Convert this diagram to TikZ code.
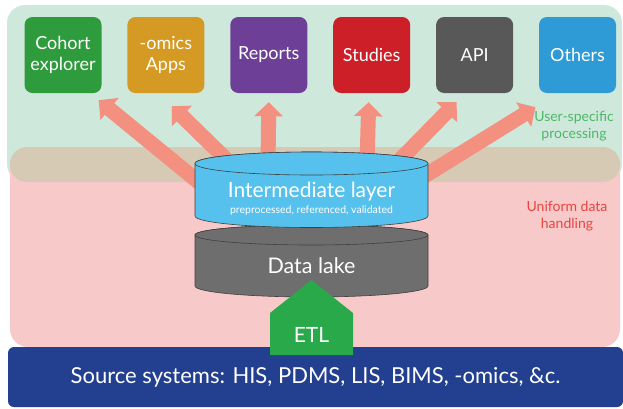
\documentclass[tikz,border=0pt]{standalone}
\usepackage{fontspec}
\setmainfont{Lato}
\usepackage{tikz}
\usetikzlibrary{arrows.meta,positioning,calc}

\definecolor{bggreen}{HTML}{CFE8DC}
\definecolor{bgpink}{HTML}{F8C9C9}
\definecolor{bgtan}{HTML}{D6CAB4}
\definecolor{salmon}{HTML}{F4907F}
\definecolor{cohortgreen}{HTML}{2E9B3D}
\definecolor{omicsgold}{HTML}{D49A24}
\definecolor{reportpurple}{HTML}{6E3F96}
\definecolor{studyred}{HTML}{CC1F27}
\definecolor{apigray}{HTML}{585858}
\definecolor{otherblue}{HTML}{2E9AD6}
\definecolor{drumblue}{HTML}{56C1EC}
\definecolor{lakegray}{HTML}{6E6E6E}
\definecolor{srcblue}{HTML}{233F90}
\definecolor{etlgreen}{HTML}{29A94A}
\definecolor{usergreen}{HTML}{4DB866}
\definecolor{uniformred}{HTML}{E9453F}

\begin{document}
\begin{tikzpicture}[x=1pt,y=-1pt,
    app/.style={fill=#1, rounded corners=8pt, minimum width=77pt, minimum height=76pt,
        inner sep=0pt, text=white, align=center, font=\fontsize{18}{21}\selectfont},
    fat/.style={draw=salmon, line width=15pt, -{Triangle[width=28pt,length=14pt]}},
    drum/.style={fill=#1, draw=black!75, line width=0.6pt}]
        \useasboundingbox (0,0) rectangle (623,408);

        % Backgrounds
        \fill[bggreen, rounded corners=18pt] (7,5) rectangle (622,182);
        \fill[bgpink, rounded corners=18pt] (10,147) rectangle (620,347);
        \fill[bgtan, rounded corners=17pt] (10,147) rectangle (620,182);

        % Applications
        \node[app=cohortgreen] (coh) at (63,55) {Cohort\\explorer};
        \node[app=omicsgold, right=25.5pt of coh] (omx) {-omics\\Apps};
        \node[app=reportpurple, right=25.5pt of omx] (rep) {Reports};
        \node[app=studyred, right=25.5pt of rep] (stu) {Studies};
        \node[app=apigray, right=25.5pt of stu] (api) {API};
        \node[app=otherblue, right=25.5pt of api] (oth) {Others};

        % Arrow tails (hidden behind the drum)
        \coordinate (d1) at (212,193);
        \coordinate (d2) at (232,165);
        \coordinate (d3) at (268,165);
        \coordinate (d4) at (367,165);
        \coordinate (d5) at (392,168);
        \coordinate (d6) at (410,185);

        \draw[fat] (d1) -- ([shift={(-3,7)}]coh.south east);
        \draw[fat] (d2) -- ([shift={(6,13)}]omx.south);
        \draw[fat] (d3) -- ([shift={(0,9)}]rep.south);
        \draw[fat] (d4) -- ([shift={(-3,9)}]stu.south);
        \draw[fat] (d5) -- ([shift={(-18,9)}]api.south);
        \draw[fat] (d6) -- ([shift={(-42,14)}]oth.south);

        % Data lake
        \path[drum=lakegray] (195,235) -- (195,286) arc[start angle=180, end angle=0, x radius=116.5, y radius=11]
            -- (428,235) arc[start angle=0, end angle=-180, x radius=116.5, y radius=10] -- cycle;
        \draw[drum=lakegray] (311.5,235) ellipse[x radius=116.5, y radius=10];
        \node[text=white, font=\fontsize{21.5}{24}\selectfont] (lake) at (311.5,266) {Data lake};

        % Intermediate layer
        \path[drum=drumblue] (195,163.5) -- (195,216) arc[start angle=180, end angle=0, x radius=116.5, y radius=11.5]
            -- (428,163.5) arc[start angle=0, end angle=-180, x radius=116.5, y radius=11.5] -- cycle;
        \draw[drum=drumblue] (311.5,163.5) ellipse[x radius=116.5, y radius=11.5];
        \node[text=white, font=\fontsize{21}{24}\selectfont] (inter) at (311.5,192) {Intermediate layer};
        \node[text=white, font=\fontsize{10.5}{12}\selectfont] (intersub) at (311.5,211) {preprocessed, referenced, validated};

        % Source systems
        \node[fill=srcblue, rounded corners=6pt, minimum width=615pt, minimum height=60pt, text=white,
            font=\fontsize{22}{25}\selectfont] (src) at (315.5,377) {Source systems: HIS, PDMS, LIS, BIMS, -omics, \&c.};

        % ETL
        \fill[etlgreen] (270,355) -- (270,313) -- (311.5,280) -- (353,313) -- (353,355) -- cycle;
        \node[text=white, font=\fontsize{21}{24}\selectfont] (etl) at (311.5,335) {ETL};

        % Side labels
        \node[text=usergreen, align=center, font=\fontsize{14}{17}\selectfont] (usp) at (574,126) {User-specific\\processing};
        \node[text=uniformred, align=center, font=\fontsize{14}{17}\selectfont] (unif) at (567,216) {Uniform data\\handling};
    \end{tikzpicture}
\end{document}
